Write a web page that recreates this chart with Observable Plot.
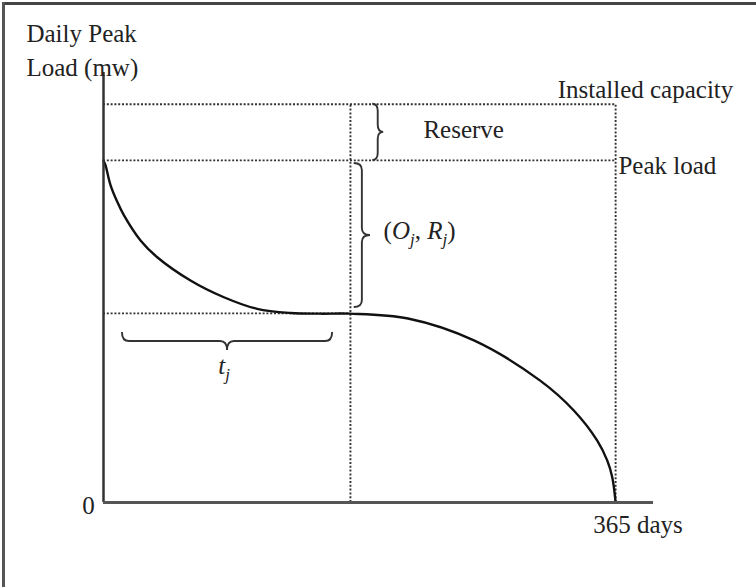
<!DOCTYPE html>
<html>
<head>
<meta charset="utf-8">
<script src="https://cdn.jsdelivr.net/npm/d3@7"></script>
<script src="https://cdn.jsdelivr.net/npm/@observablehq/plot@0.6"></script>
<style>
  html, body { margin: 0; padding: 0; background: #fff; }
  #wrap { position: relative; width: 756px; height: 587px; overflow: hidden; background: #fff; }
  #wrap svg { position: absolute; left: 0; top: 0; }
  .edge-top { position: absolute; left: 2px; top: 2px; width: 754px; height: 3px; background: #444; }
  .edge-left { position: absolute; left: 2px; top: 2px; width: 3px; height: 585px; background: #555; }
</style>
</head>
<body>
<div id="wrap"><div class="edge-top"></div><div class="edge-left"></div></div>
<script>
// Load duration curve (days ranked by daily peak load)
const days = [0, 1.4, 5, 9.8, 14.5, 26.4, 38.3, 62, 85.8, 109.5, 133.3, 154.7, 176, 217, 264, 311, 335.2, 351.9, 359, 362.6, 365];
const load = [100, 98.6, 92.8, 87.9, 84, 76.6, 71.7, 64.9, 60, 56.6, 55.4, 55.2, 55.2, 53.8, 47.4, 35.7, 26.9, 18.1, 12.3, 7.4, 0];

// Reference levels
const installedCapacity = 116.4;
const peakLoad = 100;
const blockLevel = 55.3;
const blockDay = 176;
const yearEnd = 365;
const axisEndDay = 392;
const axisTop = 125.7;

// Brace annotations (data units)
const braceDir   = ["v", "v", "h"];
const braceFrom  = [peakLoad, 57, 13.5];
const braceTo    = [installedCapacity, 99.1, 163.3];
const braceAt    = [191.9, 178.7, 49.7];
const braceTip   = [199.7, 190.3, 44.4];

// Text labels
const startText = ["Installed capacity", "Peak load", "Reserve", "(O_j, R_j)", "Daily Peak", "Load (mw)"];
const startDay  = [323.7, 367, 228, 199.6, -54.9, -54.9];
const startLoad = [120.5, 98.5, 108.8, 79.5, 137.1, 126.9];
const midText = ["t_j", "365 days", "0"];
const midDay  = [86, 380.9, -10.7];
const midLoad = [40, -6.7, -0.9];

const curve = days.map((d, i) => ({day: d, load: load[i]}));
const braces = braceDir.map((d, i) => ({dir: d, from: braceFrom[i], to: braceTo[i], at: braceAt[i], tip: braceTip[i]}));
const startLabels = startText.map((t, i) => ({text: t, day: startDay[i], load: startLoad[i]}));
const midLabels = midText.map((t, i) => ({text: t, day: midDay[i], load: midLoad[i]}));

const dotted = {stroke: "#333", strokeWidth: 1.9, strokeDasharray: "2,1.8"};

function braceMark(index, scales) {
  const {x, y} = scales;
  const g = d3.create("svg:g");
  for (const b of braces) {
    let a0, a1, c0, c2;
    if (b.dir === "v") { a0 = y(b.to); a1 = y(b.from); c0 = x(b.at); c2 = x(b.tip); }
    else { a0 = x(b.from); a1 = x(b.to); c0 = y(b.at); c2 = y(b.tip); }
    const cs = (c0 + c2) / 2, am = (a0 + a1) / 2;
    const r = Math.min(7, Math.abs(a1 - a0) / 4);
    const P = b.dir === "v" ? (a, c) => `${c},${a}` : (a, c) => `${a},${c}`;
    const d = `M${P(a0, c0)} Q${P(a0, cs)} ${P(a0 + r, cs)} L${P(am - r, cs)} Q${P(am, cs)} ${P(am, c2)} Q${P(am, cs)} ${P(am + r, cs)} L${P(a1 - r, cs)} Q${P(a1, cs)} ${P(a1, c0)}`;
    g.append("path").attr("d", d).attr("fill", "none").attr("stroke", "#333").attr("stroke-width", 1.9);
  }
  return g.node();
}

const textStyle = {fontSize: 25, fill: "#222", fontFamily: "Liberation Serif, Times New Roman, serif"};

const svg = Plot.plot({
  width: 756,
  height: 587,
  marginTop: 72,
  marginBottom: 85,
  marginLeft: 103,
  marginRight: 103,
  x: {domain: [0, axisEndDay], axis: null},
  y: {domain: [0, axisTop], axis: null},
  style: {background: "transparent", fontFamily: "Liberation Serif, serif"},
  marks: [
    Plot.ruleY([installedCapacity, peakLoad], {x1: 0, x2: yearEnd, ...dotted}),
    Plot.ruleY([blockLevel], {x1: 0, x2: blockDay, ...dotted}),
    Plot.ruleX([blockDay, yearEnd], {y1: 0, y2: installedCapacity, ...dotted}),
    Plot.line(curve, {x: "day", y: "load", curve: "catmull-rom", stroke: "#111", strokeWidth: 2.4}),
    Plot.ruleX([0], {y1: 0, y2: axisTop, stroke: "#333", strokeWidth: 2.5}),
    Plot.ruleY([0], {x1: 0, x2: axisEndDay, stroke: "#555", strokeWidth: 3}),
    braceMark,
    Plot.text(startLabels, {x: "day", y: "load", text: "text", textAnchor: "start", ...textStyle}),
    Plot.text(midLabels, {x: "day", y: "load", text: "text", textAnchor: "middle", ...textStyle})
  ]
});

// Render "X_j" as italic X with subscript j
d3.select(svg).selectAll("text").each(function() {
  const t = this.textContent;
  if (!t.includes("_")) return;
  const parts = t.split(/([A-Za-z])_([a-z])/);
  const sel = d3.select(this);
  sel.text(null);
  let reset = false;
  for (let i = 0; i < parts.length; i += 3) {
    if (parts[i]) {
      const s = sel.append("tspan").text(parts[i]);
      if (reset) { s.attr("dy", -6); reset = false; }
    }
    if (i + 1 < parts.length) {
      const s = sel.append("tspan").attr("font-style", "italic").text(parts[i + 1]);
      if (reset) { s.attr("dy", -6); reset = false; }
      sel.append("tspan").attr("font-style", "italic").attr("font-size", 17).attr("dy", 6).text(parts[i + 2]);
      reset = true;
    }
  }
});

document.getElementById("wrap").prepend(svg);
</script>
</body>
</html>
